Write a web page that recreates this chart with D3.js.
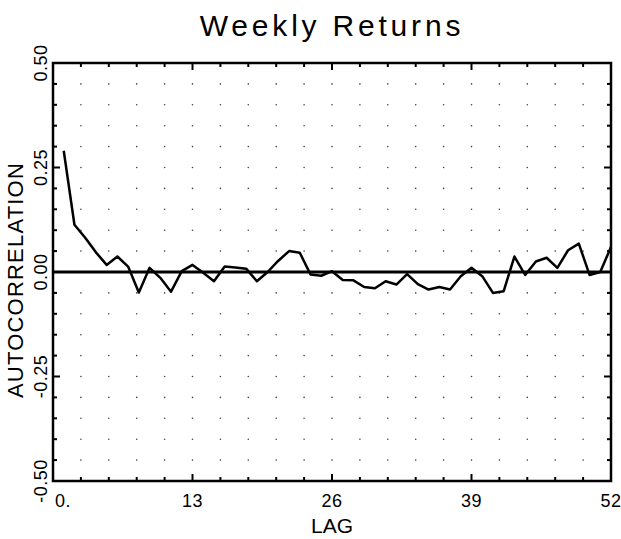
<!DOCTYPE html>
<html><head><meta charset="utf-8">
<script src="https://cdn.jsdelivr.net/npm/d3@7"></script>
<style>
html,body{margin:0;padding:0;background:#fff;}
svg{display:block;}
text{font-family:"Liberation Sans",Arial,sans-serif;fill:#000;}
</style></head>
<body>
<svg id="chart" width="621" height="539"></svg>
<script>
const title = "Weekly Returns";
const xLabel = "LAG";
const yLabel = "AUTOCORRELATION";
const lags = d3.range(1, 53);
const autocorr = [
  0.290, 0.113, 0.082, 0.047, 0.017, 0.037, 0.013, -0.049, 0.010, -0.014,
  -0.047, 0.002, 0.017, -0.002, -0.022, 0.013, 0.011, 0.008, -0.022, 0.000,
  0.027, 0.050, 0.046, -0.006, -0.009, 0.002, -0.019, -0.020, -0.036, -0.039,
  -0.022, -0.030, -0.005, -0.029, -0.042, -0.036, -0.042, -0.010, 0.010, -0.010,
  -0.050, -0.046, 0.037, -0.007, 0.025, 0.034, 0.010, 0.052, 0.068, -0.007,
  0.000, 0.060
];
const xTickValues = [0, 13, 26, 39, 52];
const xTickLabels = ["0.", "13", "26", "39", "52"];
const yTickValues = [-0.5, -0.25, 0, 0.25, 0.5];
const yTickLabels = ["-0.50", "-0.25", "0.00", "0.25", "0.50"];
const xMinorStep = 2.6;
const yMinorStep = 0.05;

const svg = d3.select("#chart");
const L = 53, R = 611, T = 63, B = 481;
const x = d3.scaleLinear().domain([0, 52]).range([L, R]);
const y = d3.scaleLinear().domain([-0.5, 0.5]).range([B, T]);

const xMinor = d3.range(0, 52 + 1e-6, xMinorStep);
const yMinor = d3.range(-0.5, 0.5 + 1e-6, yMinorStep);

// dotted grid
const dots = [];
xMinor.forEach(xv => yMinor.forEach(yv => {
  if (xv > 0.1 && xv < 51.9 && yv > -0.49 && yv < 0.49) dots.push([xv, yv]);
}));
svg.append("g").selectAll("circle").data(dots).join("circle")
  .attr("cx", d => x(d[0])).attr("cy", d => y(d[1])).attr("r", 0.8).attr("fill", "#444");

// ticks (inward)
const isMajorX = v => xTickValues.some(t => Math.abs(t - v) < 1e-6);
const isMajorY = v => yTickValues.some(t => Math.abs(t - v) < 1e-6);
const tk = svg.append("g").attr("stroke", "#000").attr("stroke-width", 2);
xMinor.forEach(v => {
  const len = isMajorX(v) ? 7 : 4;
  tk.append("line").attr("x1", x(v)).attr("x2", x(v)).attr("y1", B).attr("y2", B - len);
  tk.append("line").attr("x1", x(v)).attr("x2", x(v)).attr("y1", T).attr("y2", T + len);
});
yMinor.forEach(v => {
  const len = isMajorY(v) ? 7 : 4;
  tk.append("line").attr("y1", y(v)).attr("y2", y(v)).attr("x1", L).attr("x2", L + len);
  tk.append("line").attr("y1", y(v)).attr("y2", y(v)).attr("x1", R).attr("x2", R - len);
});

// frame
svg.append("rect").attr("x", L).attr("y", T).attr("width", R - L).attr("height", B - T)
  .attr("fill", "none").attr("stroke", "#000").attr("stroke-width", 2.5);

// zero line
svg.append("line").attr("x1", x(0)).attr("x2", x(52)).attr("y1", y(0)).attr("y2", y(0))
  .attr("stroke", "#000").attr("stroke-width", 3.2);

// data line
const line = d3.line().x((d, i) => x(lags[i])).y(d => y(d));
svg.append("path").datum(autocorr).attr("d", line)
  .attr("fill", "none").attr("stroke", "#000").attr("stroke-width", 2.5)
  .attr("stroke-linejoin", "round");

// x tick labels
svg.append("g").selectAll("text").data(xTickValues).join("text")
  .attr("x", (d, i) => i === 0 ? x(d) + 2 : x(d))
  .attr("y", 507)
  .attr("text-anchor", (d, i) => i === 0 ? "start" : "middle")
  .attr("font-size", 18).attr("letter-spacing", 0.5)
  .text((d, i) => xTickLabels[i]);

// y tick labels (rotated)
svg.append("g").selectAll("text").data(yTickValues).join("text")
  .attr("transform", d => `translate(47,${y(d)}) rotate(-90)`)
  .attr("text-anchor", "middle")
  .attr("font-size", 18).attr("letter-spacing", 0.5)
  .text((d, i) => yTickLabels[i]);

// axis titles
svg.append("text").attr("x", (L + R) / 2).attr("y", 533).attr("text-anchor", "middle")
  .attr("font-size", 21).text(xLabel);
svg.append("text").attr("transform", `translate(23,${y(0) + 8}) rotate(-90)`)
  .attr("text-anchor", "middle").attr("font-size", 22).attr("letter-spacing", 1.2).text(yLabel);

// title
svg.append("text").attr("x", (L + R) / 2).attr("y", 36).attr("text-anchor", "middle")
  .attr("font-size", 30).attr("letter-spacing", 3.8).text(title);
</script>
</body></html>
